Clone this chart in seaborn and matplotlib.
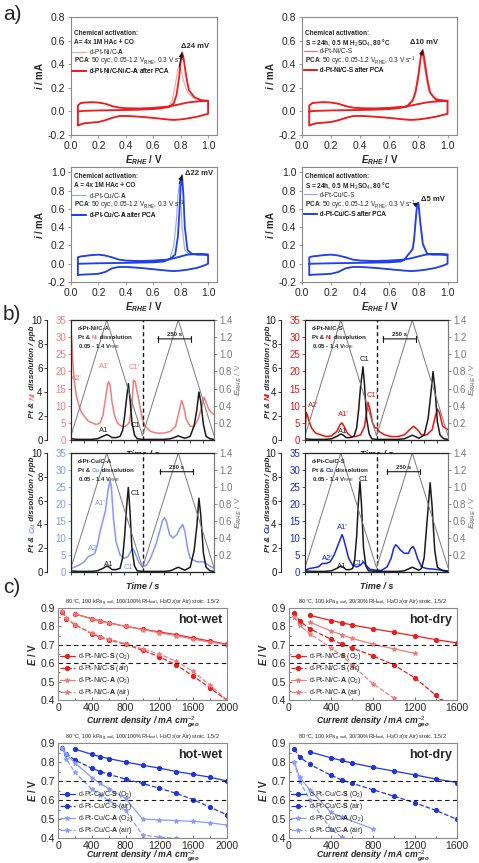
import matplotlib
matplotlib.use('Agg')
import matplotlib.pyplot as plt
import seaborn as sns
from matplotlib.lines import Line2D
from matplotlib.ticker import MultipleLocator

sns.set_theme(style='ticks')
plt.rcParams['font.family'] = ['Liberation Sans', 'DejaVu Sans']
plt.rcParams['mathtext.fontset'] = 'custom'
plt.rcParams['mathtext.rm'] = 'Liberation Sans'
plt.rcParams['mathtext.it'] = 'Liberation Sans:italic:bold'
plt.rcParams['mathtext.bf'] = 'Liberation Sans:bold'
plt.rcParams['axes.unicode_minus'] = False

# ---------------- a) CO-stripping CVs ----------------
# background branches (first anodic scan up to the CO peak, cathodic scan, second anodic scan)
cath_e = [1.0, 1.0, 0.97, 0.92, 0.85, 0.8, 0.75, 0.7, 0.6, 0.5, 0.4, 0.35, 0.3, 0.25, 0.2, 0.15, 0.1, 0.07, 0.05]
sec_e = [0.05, 0.05, 0.07, 0.1, 0.15, 0.2, 0.25, 0.3, 0.35, 0.4, 0.5, 0.6, 0.7, 0.75, 0.8, 0.85, 0.9, 0.95, 1.0]

ni_first_e = [0.05, 0.1, 0.2, 0.3, 0.4, 0.5, 0.6, 0.65, 0.7]
ni_first_i = [0.0, 0.005, 0.008, 0.01, 0.012, 0.015, 0.02, 0.025, 0.035]
ni_cath_i = [0.09, -0.02, -0.03, -0.045, -0.06, -0.068, -0.072, -0.068, -0.055, -0.045, -0.038, -0.04, -0.055, -0.075, -0.09, -0.095, -0.1, -0.11, -0.12]
ni_sec_i = [-0.12, 0.05, 0.07, 0.075, 0.078, 0.075, 0.065, 0.045, 0.032, 0.027, 0.025, 0.03, 0.04, 0.05, 0.062, 0.075, 0.082, 0.087, 0.09]

cu_first_e = [0.05, 0.2, 0.4, 0.6, 0.68, 0.7]
cu_first_i = [0.0, 0.005, 0.01, 0.015, 0.025, 0.04]
cu_cath_i = [0.1, 0.0, -0.02, -0.045, -0.065, -0.075, -0.08, -0.075, -0.06, -0.045, -0.035, -0.035, -0.05, -0.09, -0.11, -0.115, -0.118, -0.12, -0.125]
cu_sec_i = [-0.125, 0.07, 0.08, 0.085, 0.095, 0.1, 0.09, 0.07, 0.045, 0.035, 0.03, 0.035, 0.045, 0.06, 0.08, 0.1, 0.105, 0.105, 0.1]

# CO oxidation peaks
niA_pre_e = [0.72, 0.74, 0.76, 0.78, 0.79, 0.8, 0.82, 0.85, 0.9, 0.95, 1.0]
niA_pre_i = [0.05, 0.1, 0.22, 0.36, 0.38, 0.36, 0.26, 0.16, 0.11, 0.095, 0.09]
niA_post_e = [0.72, 0.75, 0.77, 0.79, 0.8, 0.81, 0.82, 0.84, 0.86, 0.9, 0.95, 1.0]
niA_post_i = [0.04, 0.07, 0.14, 0.3, 0.42, 0.5, 0.46, 0.3, 0.18, 0.12, 0.095, 0.09]
niS_pre_e = [0.72, 0.76, 0.78, 0.8, 0.81, 0.82, 0.83, 0.85, 0.87, 0.9, 0.95, 1.0]
niS_pre_i = [0.045, 0.1, 0.18, 0.33, 0.42, 0.48, 0.47, 0.32, 0.18, 0.12, 0.095, 0.09]
niS_post_e = [0.72, 0.76, 0.78, 0.8, 0.81, 0.82, 0.83, 0.84, 0.86, 0.88, 0.92, 1.0]
niS_post_i = [0.04, 0.09, 0.16, 0.3, 0.4, 0.5, 0.52, 0.45, 0.28, 0.16, 0.1, 0.09]
cuA_pre_e = [0.72, 0.75, 0.77, 0.78, 0.79, 0.8, 0.81, 0.83, 0.86, 0.9, 1.0]
cuA_pre_i = [0.05, 0.2, 0.5, 0.75, 0.88, 0.7, 0.4, 0.15, 0.11, 0.1, 0.1]
cuA_post_e = [0.72, 0.76, 0.78, 0.79, 0.8, 0.81, 0.82, 0.83, 0.85, 0.88, 0.92, 1.0]
cuA_post_i = [0.05, 0.1, 0.3, 0.55, 0.85, 0.97, 0.75, 0.4, 0.15, 0.11, 0.1, 0.1]
cuS_pre_e = [0.7, 0.73, 0.75, 0.76, 0.77, 0.78, 0.79, 0.8, 0.81, 0.83, 0.86, 0.9, 1.0]
cuS_pre_i = [0.04, 0.1, 0.14, 0.17, 0.3, 0.5, 0.66, 0.62, 0.45, 0.2, 0.11, 0.1, 0.1]
cuS_post_e = [0.7, 0.73, 0.75, 0.76, 0.77, 0.78, 0.79, 0.8, 0.81, 0.83, 0.86, 0.9, 1.0]
cuS_post_i = [0.04, 0.1, 0.14, 0.16, 0.26, 0.45, 0.63, 0.67, 0.5, 0.22, 0.11, 0.1, 0.1]

# ---------------- b) online ICP-MS dissolution ----------------
pot_t = [0, 270, 540, 810, 1080]
pot_e = [0.05, 1.4, 0.05, 1.4, 0.05]

pt_niA_t = [0, 50, 100, 150, 200, 240, 270, 290, 310, 340, 370, 390, 405, 420, 433, 445, 460, 480, 500, 540, 600, 650, 700, 750, 790, 810, 830, 860, 900, 930, 950, 966, 980, 1000, 1020, 1050, 1080]
pt_niA = [0.1, 0.05, 0.05, 0.05, 0.1, 0.3, 0.45, 0.35, 0.2, 0.2, 0.3, 0.8, 2.0, 3.5, 4.7, 3.5, 1.5, 0.4, 0.1, 0.05, 0.05, 0.05, 0.05, 0.1, 0.25, 0.35, 0.25, 0.15, 0.3, 1.2, 2.5, 4.0, 3.2, 1.3, 0.3, 0.1, 0.05]
ni_niA_t = [0, 8, 15, 25, 40, 60, 80, 100, 130, 160, 190, 220, 240, 260, 275, 285, 295, 310, 330, 350, 380, 410, 440, 460, 472, 485, 500, 520, 540, 560, 600, 650, 700, 750, 790, 820, 835, 850, 870, 900, 930, 960, 990, 1005, 1020, 1040, 1060, 1080]
ni_niA = [32, 28, 22, 17, 13, 10, 8, 7, 5.5, 5, 4.5, 5, 7, 12, 16, 17, 16, 11, 7, 5, 4, 4, 5, 10, 17.5, 17, 14, 10, 6, 4, 2.5, 2, 2, 2.5, 4, 9, 11.5, 10, 6, 4, 4, 6, 10, 12.5, 11, 9, 8, 7.5]

pt_niS_t = [0, 50, 100, 150, 200, 240, 270, 290, 310, 340, 370, 390, 405, 420, 438, 450, 465, 485, 505, 540, 600, 650, 700, 750, 790, 810, 830, 860, 900, 930, 950, 967, 982, 1000, 1020, 1050, 1080]
pt_niS = [0.1, 0.05, 0.05, 0.05, 0.1, 0.3, 0.5, 0.4, 0.2, 0.2, 0.3, 1.0, 2.5, 4.5, 6.1, 4.5, 1.8, 0.5, 0.1, 0.05, 0.05, 0.05, 0.05, 0.1, 0.3, 0.4, 0.3, 0.15, 0.4, 1.8, 3.8, 5.7, 4.2, 1.5, 0.4, 0.1, 0.05]
ni_niS_t = [0, 10, 20, 35, 50, 80, 120, 160, 200, 240, 265, 280, 295, 320, 350, 380, 420, 450, 465, 476, 490, 510, 530, 545, 560, 600, 650, 700, 750, 790, 820, 850, 880, 920, 960, 985, 1000, 1015, 1040, 1080]
ni_niS = [3, 8, 7, 5, 3.5, 2, 1.5, 1, 1.2, 2.5, 4.5, 5, 4, 2, 1, 1, 1.5, 4, 8, 11, 9, 5, 3.5, 3.5, 2.5, 1.5, 1, 1, 1.5, 3, 4, 3, 1.5, 1.5, 3, 7, 9, 8, 4, 3]

pt_cuA_t = [0, 50, 100, 150, 200, 240, 270, 290, 310, 340, 370, 390, 405, 420, 433, 445, 460, 480, 500, 540, 600, 650, 700, 750, 790, 810, 830, 860, 900, 930, 950, 966, 980, 1000, 1020, 1050, 1080]
pt_cuA = [0.1, 0.05, 0.05, 0.05, 0.1, 0.3, 0.5, 0.4, 0.2, 0.2, 0.3, 1.2, 3.0, 5.5, 7.1, 5.2, 2.0, 0.5, 0.1, 0.05, 0.05, 0.05, 0.05, 0.1, 0.3, 0.4, 0.3, 0.15, 0.4, 1.8, 3.8, 6.2, 4.8, 1.6, 0.4, 0.1, 0.05]
cu_cuA_t = [0, 30, 60, 100, 130, 160, 180, 200, 220, 240, 260, 280, 295, 305, 320, 340, 370, 400, 430, 450, 465, 480, 510, 540, 570, 600, 640, 670, 690, 705, 720, 745, 770, 800, 825, 843, 860, 880, 900, 950, 1000, 1040, 1080]
cu_cuA = [1, 1.5, 2, 3, 4.5, 5, 5.5, 8, 12, 15, 18, 24, 27, 25, 16, 9, 5, 4, 4.5, 6, 7, 6, 3, 1.5, 2, 4, 8, 12, 15, 16, 15, 11, 10, 11, 13, 14, 12, 7, 4, 3, 3, 2, 1]

pt_cuS_t = [0, 50, 100, 150, 200, 240, 270, 290, 310, 340, 360, 375, 390, 403, 415, 427, 442, 460, 480, 540, 600, 650, 700, 750, 790, 810, 830, 860, 880, 900, 920, 945, 960, 980, 1000, 1040, 1080]
pt_cuS = [0.1, 0.05, 0.05, 0.05, 0.1, 0.3, 0.5, 0.4, 0.2, 0.2, 0.3, 1.0, 3.0, 5.8, 7.6, 5.6, 2.0, 0.5, 0.1, 0.05, 0.05, 0.05, 0.05, 0.1, 0.3, 0.4, 0.3, 0.15, 0.3, 1.2, 4.0, 7.5, 5.5, 1.8, 0.4, 0.1, 0.05]
cu_cuS_t = [0, 30, 60, 100, 130, 160, 190, 220, 250, 270, 280, 290, 310, 330, 360, 390, 420, 440, 460, 490, 540, 580, 620, 650, 670, 685, 700, 720, 750, 780, 800, 816, 830, 850, 880, 920, 980, 1040, 1080]
cu_cuS = [0.5, 1, 1.2, 1.5, 2.5, 2.5, 3, 5, 8, 10, 11, 10, 7, 4, 2, 1.5, 2, 3, 2, 0.8, 0.5, 0.5, 1.5, 4, 7, 8, 7.5, 6.5, 5.5, 5.5, 7, 7.5, 6.5, 4, 1.5, 1, 0.8, 0.5, 0.3]

# ---------------- c) H2/air fuel cell polarisation ----------------
j_o2 = [200, 400, 500, 600, 800, 1000, 1200, 1400, 1600, 1800, 2000]
j_air = [50, 100, 200, 400, 500, 600, 800, 1000, 1200, 1400, 1600, 1800, 2000]
ni_wet_S_o2 = [0.868, 0.842, 0.83, 0.82, 0.80, 0.785, 0.77, 0.755, 0.737, 0.72, 0.703]
ni_wet_S_air = [0.878, 0.842, 0.81, 0.76, 0.742, 0.727, 0.703, 0.67, 0.635, 0.59, 0.53, 0.465, 0.398]
ni_wet_A_o2 = [0.868, 0.84, 0.828, 0.818, 0.80, 0.783, 0.765, 0.75, 0.73, 0.715, 0.70]
ni_wet_A_air = [0.882, 0.845, 0.81, 0.762, 0.745, 0.732, 0.705, 0.678, 0.65, 0.61, 0.555, 0.48, 0.40]

ni_dry_S_o2_j = [200, 400, 500, 600, 800, 1000, 1200, 1400, 1600]
ni_dry_S_o2 = [0.86, 0.832, 0.82, 0.808, 0.787, 0.768, 0.748, 0.728, 0.71]
ni_dry_S_air_j = [50, 100, 200, 400, 500, 600, 800, 1000, 1200, 1400, 1450]
ni_dry_S_air = [0.875, 0.83, 0.787, 0.73, 0.705, 0.683, 0.64, 0.59, 0.52, 0.425, 0.395]
ni_dry_A_o2_j = [200, 400, 500, 600, 800, 1000, 1200]
ni_dry_A_o2 = [0.823, 0.775, 0.755, 0.735, 0.703, 0.678, 0.653]
ni_dry_A_air_j = [50, 100, 200, 400, 500, 600, 800, 1000]
ni_dry_A_air = [0.852, 0.805, 0.76, 0.683, 0.643, 0.59, 0.488, 0.41]

cu_wet_S_o2 = [0.868, 0.84, 0.828, 0.818, 0.80, 0.783, 0.768, 0.75, 0.735, 0.72, 0.70]
cu_wet_S_air = [0.875, 0.843, 0.81, 0.767, 0.75, 0.735, 0.71, 0.687, 0.662, 0.635, 0.602, 0.562, 0.522]
cu_wet_A_o2 = [0.875, 0.84, 0.795, 0.718, 0.688, 0.66, 0.608, 0.50, 0.495, 0.492, 0.487, 0.48, 0.468]
cu_wet_A_air_j = [50, 100, 200, 400, 500, 600, 800, 1000, 1200, 1400]
cu_wet_A_air = [0.872, 0.815, 0.745, 0.658, 0.625, 0.598, 0.545, 0.415, 0.405, 0.398]

cu_dry_S_o2_j = [200, 400, 500, 600, 800, 1000, 1200, 1400, 1600]
cu_dry_S_o2 = [0.853, 0.822, 0.808, 0.795, 0.772, 0.752, 0.732, 0.71, 0.692]
cu_dry_S_air_j = [50, 100, 200, 400, 500, 600, 800, 1000, 1200, 1400, 1600]
cu_dry_S_air = [0.868, 0.826, 0.787, 0.73, 0.706, 0.688, 0.654, 0.62, 0.585, 0.545, 0.498]
cu_dry_A_o2_j = [50, 100, 200, 400, 500, 800]
cu_dry_A_o2 = [0.80, 0.72, 0.653, 0.535, 0.51, 0.448]
cu_dry_A_air_j = [50, 100, 200, 400, 500]
cu_dry_A_air = [0.80, 0.70, 0.60, 0.447, 0.405]

ref_voltages = [0.7, 0.6]

# ---------------- figure ----------------
W, H = 479, 863
fig = plt.figure(figsize=(W / 100, H / 100), dpi=100)


def add_ax(l, r, t, b):
    return fig.add_axes([l / W, 1 - b / H, (r - l) / W, (b - t) / H])


def frame(ax, color='#8a8a8a'):
    for s in ax.spines.values():
        s.set_visible(True)
        s.set_color(color)
        s.set_linewidth(0.8)


def cv_panel(rect, first, peaks_pre, peaks_post, cath_i, sec_i, c_pre, c_post,
             ylim, ytop, texts, labels, delta, dpos, ypos):
    ax = add_ax(*rect)
    for (pe, pi), col, lw in [(peaks_pre, c_pre, 0.8), (peaks_post, c_post, 1.3)]:
        e = first[0] + pe + cath_e + sec_e
        i = first[1] + pi + cath_i + sec_i
        sns.lineplot(x=e, y=i, sort=False, estimator=None, color=col, lw=lw, ax=ax)
    # peak shift arrow
    k0 = peaks_pre[1].index(max(peaks_pre[1]))
    k1 = peaks_post[1].index(max(peaks_post[1]))
    ax.annotate('', xy=(peaks_post[0][k1], peaks_post[1][k1]),
                xytext=(peaks_pre[0][k0], peaks_pre[1][k0]),
                arrowprops=dict(arrowstyle='-|>', color='k', lw=0.8, mutation_scale=6,
                                shrinkA=0, shrinkB=0))
    ax.text(dpos[0], dpos[1], delta, fontsize=5.5, fontweight='bold', va='center')
    ax.set_xlim(0, 1.065)
    ax.set_ylim(-0.2, ylim)
    ax.set_yticks([v / 10 for v in range(-2, ytop + 1, 2)])
    ax.set_xticks([0, 0.2, 0.4, 0.6, 0.8, 1.0])
    ax.xaxis.set_major_formatter(matplotlib.ticker.FormatStrFormatter('%.1f'))
    ax.yaxis.set_major_formatter(matplotlib.ticker.FormatStrFormatter('%.1f'))
    ax.tick_params(labelsize=7.5, length=2, width=0.6, pad=2, color='#8a8a8a')
    frame(ax)
    ax.set_xlabel(r'$E_{RHE}$ / V', fontsize=7, fontweight='bold', labelpad=2)
    ax.set_ylabel(r'$i$ / mA', fontsize=7, fontweight='bold', labelpad=2)
    fs = 4.7
    ax.text(0.02, ypos[0], 'Chemical activation:', transform=ax.transAxes,
            fontsize=fs, fontweight='bold', va='center')
    ax.text(0.02, ypos[1], texts, transform=ax.transAxes, fontsize=fs, fontweight='bold', va='center')
    ax.text(0.02, ypos[3], r'$\mathbf{PCA}$: 50 cyc, 0.05-1.2 V$_{\mathrm{RHE}}$, 0.3 V s$^{-1}$',
            transform=ax.transAxes, fontsize=fs, va='center')
    for y, col, lw, lab in [(ypos[2], c_pre, 0.8, labels[0]), (ypos[4], c_post, 1.3, labels[1])]:
        leg = ax.legend([Line2D([], [], color=col, lw=lw)], [lab], loc='center left',
                        bbox_to_anchor=(0.01, y), frameon=False, fontsize=fs,
                        handlelength=2.0, handletextpad=0.5, borderpad=0, borderaxespad=0)
        ax.add_artist(leg)
    return ax


ya_top = [0.86, 0.785, 0.705, 0.625, 0.545]
ya_bot = [0.915, 0.84, 0.755, 0.67, 0.585]

cv_panel((71, 217, 17, 135), (ni_first_e, ni_first_i), (niA_pre_e, niA_pre_i), (niA_post_e, niA_post_i),
         ni_cath_i, ni_sec_i, '#f5a3a3', '#ee1c1c', 0.8, 8,
         r'A= 4x 1M HAc + CO', [r'd-Pt-Ni/C-$\mathbf{A}$', r'd-Pt-Ni/C-Ni/C-$\mathbf{A}$ after PCA'],
         '\u039424 mV', (0.80, 0.55), ya_top)
cv_panel((302, 457, 17, 135), (ni_first_e, ni_first_i), (niS_pre_e, niS_pre_i), (niS_post_e, niS_post_i),
         ni_cath_i, ni_sec_i, '#f26b6b', '#ee1c1c', 0.8, 8,
         r'S = 24h, 0.5 M H$_2$SO$_4$, 80 °C', ['d-Pt-Ni/C-S', 'd-Pt-Ni/C-S after PCA'],
         '\u039410 mV', (0.74, 0.58), ya_top)
cv_panel((71, 217, 167, 282), (cu_first_e, cu_first_i), (cuA_pre_e, cuA_pre_i), (cuA_post_e, cuA_post_i),
         cu_cath_i, cu_sec_i, '#93a3ff', '#2140e8', 1.06, 10,
         r'A = 4x 1M HAc + CO', [r'd-Pt-Cu/C-$\mathbf{A}$', r'd-Pt-Cu/C-$\mathbf{A}$ after PCA'],
         '\u039422 mV', (0.83, 0.99), ya_bot)
cv_panel((302, 457, 167, 282), (cu_first_e, cu_first_i), (cuS_pre_e, cuS_pre_i), (cuS_post_e, cuS_post_i),
         cu_cath_i, cu_sec_i, '#93a3ff', '#2140e8', 1.06, 10,
         r'S = 24h, 0.5 M H$_2$SO$_4$, 80 °C', ['d-Pt-Cu/C-S', 'd-Pt-Cu/C-S after PCA'],
         '\u03945 mV', (0.815, 0.70), ya_bot)


def diss_panel(rect, pt_t, pt, m_t, m, mcol, metal, sample, lab_m, lab_pt, bar0, ylab_x):
    ax = add_ax(*rect)
    axpt = ax.twinx()
    axe = ax.twinx()
    sns.lineplot(x=m_t, y=m, sort=False, estimator=None, color=mcol, lw=1.1, ax=ax)
    sns.lineplot(x=pt_t, y=pt, sort=False, estimator=None, color='k', lw=1.1, ax=axpt)
    sns.lineplot(x=pot_t, y=pot_e, sort=False, estimator=None, color='#7a7a7a', lw=0.7, ax=axe)
    ax.axvline(pot_t[2], color='k', ls='--', lw=1.0, dashes=(3, 2))
    ax.set_xlim(pot_t[0], pot_t[-1])
    ax.set_ylim(0, 35)
    axpt.set_ylim(0, 10)
    axe.set_ylim(0, 1.4)
    axpt.yaxis.tick_left()
    axpt.yaxis.set_label_position('left')
    axpt.spines['left'].set_position(('outward', 17))
    axpt.spines['right'].set_visible(False)
    for a in (ax, axpt, axe):
        for s in a.spines.values():
            s.set_linewidth(0.8)
    ax.spines['right'].set_color('#7a7a7a')
    axe.spines['right'].set_color('#7a7a7a')
    ax.set_yticks(range(0, 36, 5))
    axpt.set_yticks(range(0, 11, 2))
    axe.set_yticks([0.2, 0.4, 0.6, 0.8, 1.0, 1.2, 1.4])
    axe.yaxis.set_major_formatter(matplotlib.ticker.FormatStrFormatter('%.1f'))
    ax.xaxis.set_major_locator(MultipleLocator(100))
    ax.set_xticklabels([])
    ax.tick_params(axis='y', labelsize=7, colors=mcol, length=2.5, width=0.6, pad=1)
    ax.tick_params(axis='x', length=2.5, width=0.6)
    axpt.tick_params(axis='y', labelsize=7, colors='k', length=2.5, width=0.6, pad=1)
    axe.tick_params(axis='y', labelsize=7, colors='#7a7a7a', length=2.5, width=0.6, pad=1)
    ax.set_xlabel('Time / s', fontsize=6.5, fontweight='bold', fontstyle='italic', labelpad=1)
    axe.set_ylabel(r'$E_{RHE}$ / V', fontsize=6, color='#8a8a8a', labelpad=1)
    # sample info
    tr = axe.transAxes
    axe.text(0.05, 0.93, sample, transform=tr, fontsize=4.3, fontweight='bold', va='center')
    t1 = axe.text(0.05, 0.835, 'Pt & ', transform=tr, fontsize=4.3, fontweight='bold', va='bottom')
    t2 = axe.annotate(metal, xy=(1, 0), xycoords=t1, fontsize=4.3, fontweight='bold',
                      color=mcol, va='bottom')
    axe.annotate(' dissolution', xy=(1, 0), xycoords=t2, fontsize=4.3, fontweight='bold', va='bottom')
    axe.text(0.05, 0.78, r'0.05 - 1.4 V$_{\mathrm{RHE}}$', transform=tr, fontsize=4.3,
             fontweight='bold', va='center')
    # 250 s scale bar
    axe.annotate('', xy=(bar0 + 250, 1.18), xytext=(bar0, 1.18),
                 arrowprops=dict(arrowstyle='|-|', lw=0.8, color='k', mutation_scale=2,
                                 shrinkA=0, shrinkB=0))
    axe.text(bar0 + 125, 1.2, '250 s', ha='center', va='bottom', fontsize=4.3, fontweight='bold')
    for s, x, y in lab_m:
        ax.text(x, y, s, color=mcol, fontsize=5.5, ha='center', va='bottom')
    for s, x, y in lab_pt:
        axpt.text(x, y, s, color='k', fontsize=5.5, ha='center', va='bottom')
    # coloured y label, built from three pieces
    l, r, t, b = rect
    ymid = b - 0.37 * (b - t)
    tm = fig.text(ylab_x / W, 1 - ymid / H, metal, rotation=90, color=mcol, fontsize=5.8,
                  fontweight='bold', fontstyle='italic', ha='center', va='center')
    axe.annotate('Pt & ', xy=(0.5, 0), xycoords=tm, rotation=90, fontsize=5.8,
                 fontweight='bold', fontstyle='italic', ha='center', va='top',
                 annotation_clip=False)
    axe.annotate(' dissolution / ppb', xy=(0.5, 1), xycoords=tm, rotation=90, fontsize=5.8,
                 fontweight='bold', fontstyle='italic', ha='center', va='bottom',
                 annotation_clip=False)
    return ax


diss_panel((71, 214, 320, 440), pt_niA_t, pt_niA, ni_niA_t, ni_niA, '#f37b7b', 'Ni', 'd-Pt-Ni/C-A',
           [("A2'", 40, 17), ("A1'", 255, 20.5), ("C1'", 475, 20)], [("A1", 250, 0.5), ("C1", 487, 0.9)],
           655, 33)
diss_panel((305, 448, 320, 440), pt_niS_t, pt_niS, ni_niS_t, ni_niS, '#f01010', 'Ni', 'd-Pt-Ni/C-S',
           [("A2'", 60, 9), ("A1'", 287, 6.5), ("C1'", 506, 12)], [("A1", 287, 0.4), ("C1", 448, 6.4)],
           590, 268)
diss_panel((71, 214, 453, 572), pt_cuA_t, pt_cuA, cu_cuA_t, cu_cuA, '#8496ff', 'Cu', 'd-Pt-Cu/C-A',
           [("A2'", 167, 6), ("A1'", 222, 19), ("C1'", 440, 0.3)], [("A1", 281, 0.3), ("C1", 490, 6.3)],
           672, 33)
diss_panel((305, 448, 453, 572), pt_cuS_t, pt_cuS, cu_cuS_t, cu_cuS, '#1428e6', 'Cu', 'd-Pt-Cu/C-S',
           [("A2'", 166, 3), ("A1'", 279, 12), ("C1'", 400, 1.5)], [("A1", 280, 0.2), ("C1", 440, 7.5)],
           620, 268)


def pol_panel(rect, series, xmax, title, tag, xpad):
    ax = add_ax(*rect)
    for x, y, col, ls, mk, ms, lab in series:
        sns.lineplot(x=x, y=y, sort=False, estimator=None, color=col, ls=ls, lw=0.9,
                     marker=mk, ms=ms, mec=col, mfc=col, label=lab, ax=ax)
    for v in ref_voltages:
        ax.axhline(v, color='k', ls='--', lw=0.8, dashes=(4, 3))
    ax.set_xlim(0, xmax)
    ax.set_ylim(0.4, 0.9)
    ax.xaxis.set_major_locator(MultipleLocator(400))
    ax.xaxis.set_minor_locator(MultipleLocator(200))
    ax.yaxis.set_major_locator(MultipleLocator(0.1))
    ax.yaxis.set_minor_locator(MultipleLocator(0.05))
    ax.yaxis.set_major_formatter(matplotlib.ticker.FormatStrFormatter('%.1f'))
    ax.tick_params(which='both', direction='in', labelsize=7.5, width=0.6, pad=2, color='#555555')
    ax.tick_params(which='major', length=2.5)
    ax.tick_params(which='minor', length=1.5)
    frame(ax)
    ax.legend(loc='lower left', frameon=False, fontsize=5, handlelength=2.2, handletextpad=0.4,
              labelspacing=0.15, borderaxespad=0.15, borderpad=0.1)
    ax.set_xlabel(r'Current density / mA cm$^{-2}_{\mathit{geo}}$', fontsize=6.3,
                  fontweight='bold', fontstyle='italic', labelpad=xpad)
    ax.set_ylabel(r'$E$ / V', fontsize=7, fontweight='bold', labelpad=2)
    ax.set_title(title, fontsize=4, pad=3)
    ax.text(0.97, 0.94, tag, transform=ax.transAxes, fontsize=9, fontweight='bold', ha='right', va='top')
    return ax


wet_title = (r'80 °C, 100 kPa$_{\mathrm{g,outl}}$, 100/100% RH$_{\mathrm{outl}}$, '
             r'H$_2$/O$_2$(or Air) stoic. 1.5/2')
dry_title = (r'80 °C, 100 kPa$_{\mathrm{g,outl}}$, 30/30% RH$_{\mathrm{outl}}$, '
             r'H$_2$/O$_2$(or Air) stoic. 1.5/2')
r_dark, r_light = '#ee1c1c', '#f27a7a'
b_dark, b_light = '#1f35e0', '#8a9bff'

pol_panel((58, 227, 608, 700), [
    (j_o2, ni_wet_S_o2, r_dark, '-', 'o', 3, r'd-Pt-Ni/C-$\mathbf{S}$ (O$_2$)'),
    (j_air, ni_wet_S_air, r_dark, '--', 'o', 3, r'd-Pt-Ni/C-$\mathbf{S}$ (air)'),
    (j_o2, ni_wet_A_o2, r_light, '-', '*', 3.5, r'd-Pt-Ni/C-$\mathbf{A}$ (O$_2$)'),
    (j_air, ni_wet_A_air, r_light, '--', '*', 3.5, r'd-Pt-Ni/C-$\mathbf{A}$ (air)'),
], 2000, wet_title, 'hot-wet', 1)
pol_panel((289, 457, 608, 700), [
    (ni_dry_S_o2_j, ni_dry_S_o2, r_dark, '-', 'o', 3, r'd-Pt-Ni/C-$\mathbf{S}$ (O$_2$)'),
    (ni_dry_S_air_j, ni_dry_S_air, r_dark, '--', 'o', 3, r'd-Pt-Ni/C-$\mathbf{S}$ (air)'),
    (ni_dry_A_o2_j, ni_dry_A_o2, r_light, '-', '*', 3.5, r'd-Pt-Ni/C-$\mathbf{A}$ (O$_2$)'),
    (ni_dry_A_air_j, ni_dry_A_air, r_light, '--', '*', 3.5, r'd-Pt-Ni/C-$\mathbf{A}$ (air)'),
], 1600, dry_title, 'hot-dry', 1)
pol_panel((58, 227, 743, 838), [
    (j_o2, cu_wet_S_o2, b_dark, '-', 'o', 3, r'd-Pt-Cu/C-$\mathbf{S}$ (O$_2$)'),
    (j_air, cu_wet_S_air, b_dark, '--', 'o', 3, r'd-Pt-Cu/C-$\mathbf{S}$ (air)'),
    (j_air, cu_wet_A_o2, b_light, '-', '*', 3.5, r'd-Pt-Cu/C-$\mathbf{A}$ (O$_2$)'),
    (cu_wet_A_air_j, cu_wet_A_air, b_light, '--', '*', 3.5, r'd-Pt-Cu/C-$\mathbf{A}$ (air)'),
], 2000, wet_title, 'hot-wet', -2)
pol_panel((289, 457, 743, 838), [
    (cu_dry_S_o2_j, cu_dry_S_o2, b_dark, '-', 'o', 3, r'd-Pt-Cu/C-$\mathbf{S}$ (O$_2$)'),
    (cu_dry_S_air_j, cu_dry_S_air, b_dark, '--', 'o', 3, r'd-Pt-Cu/C-$\mathbf{S}$ (air)'),
    (cu_dry_A_o2_j, cu_dry_A_o2, b_light, '-', '*', 3.5, r'd-Pt-Cu/C-$\mathbf{A}$ (O$_2$)'),
    (cu_dry_A_air_j, cu_dry_A_air, b_light, '--', '*', 3.5, r'd-Pt-Cu/C-$\mathbf{A}$ (air)'),
], 1600, dry_title, 'hot-dry', -2)

for lab, y in [('a)', 15), ('b)', 315), ('c)', 587)]:
    fig.text(3 / W, 1 - y / H, lab, fontsize=15, va='center', ha='left')

fig.savefig('out.png', dpi=100)
